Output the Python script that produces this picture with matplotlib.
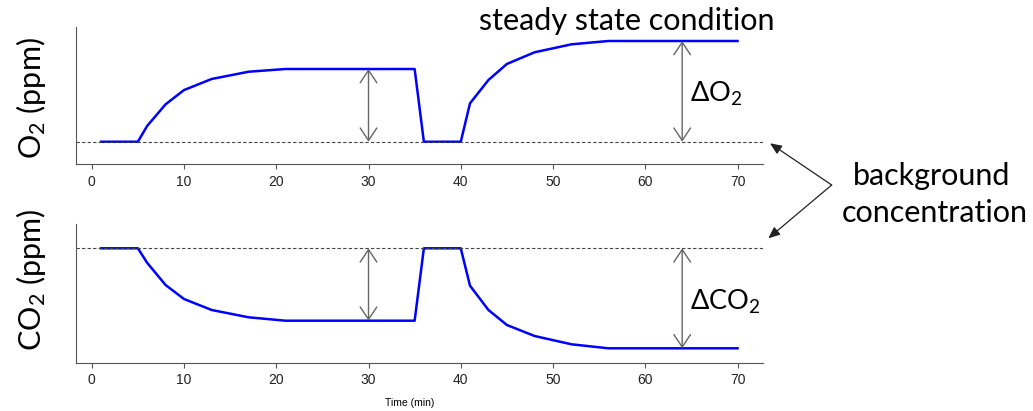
import matplotlib
matplotlib.use('Agg')
import matplotlib.pyplot as plt

# values (arbitrary units, background = 0)
time_min = [1, 5, 6, 8, 10, 13, 17, 21, 35, 36, 40, 41, 43, 45, 48, 52, 56, 70]
o2_ppm = [0, 0, 0.156, 0.371, 0.513, 0.623, 0.695, 0.722, 0.722, 0, 0,
          0.381, 0.613, 0.772, 0.888, 0.967, 1.0, 1.0]
co2_ppm = [0, 0, -0.144, -0.367, -0.507, -0.617, -0.69, -0.724, -0.724, 0, 0,
           -0.374, -0.617, -0.767, -0.877, -0.96, -1.0, -1.0]
x_ticks = [0, 10, 20, 30, 40, 50, 60, 70]
background = 0
arrow_times = [30, 64]

W, H = 1033, 411
big_font = 'Lato'
axis_grey = '#555555'


def style_axis(ax):
    ax.spines['top'].set_visible(False)
    ax.spines['right'].set_visible(False)
    ax.spines['left'].set_color(axis_grey)
    ax.spines['bottom'].set_color(axis_grey)
    ax.set_xlim(-1.76, 72.76)
    ax.set_xticks(x_ticks)
    ax.set_yticks([])
    ax.tick_params(axis='x', length=3.6, color=axis_grey, pad=4,
                   labelsize=10, labelcolor='#222222')
    for lab in ax.get_xticklabels():
        lab.set_family('Liberation Sans')


def vert_arrow(ax, x, y0, y1):
    ax.annotate('', xy=(x, y1), xytext=(x, y0),
                arrowprops=dict(arrowstyle='<->,head_length=0.9,head_width=0.6',
                                color='#666666', lw=1.0, shrinkA=0, shrinkB=0))


fig = plt.figure(figsize=(W / 100, H / 100), dpi=100)
ax1 = fig.add_axes([75.5 / W, 1 - 164 / H, 687.5 / W, 137 / H])
ax2 = fig.add_axes([75.5 / W, 1 - 362.7 / H, 687.5 / W, 138.7 / H])

# O2 panel
ax1.plot(time_min, o2_ppm, color='#0000ff', lw=1.8)
ax1.axhline(background, color='#444444', lw=0.8, ls=(0, (3, 2)))
ax1.set_ylim(-0.221, 1.139)
style_axis(ax1)
vert_arrow(ax1, arrow_times[0], background, o2_ppm[time_min.index(21)])
vert_arrow(ax1, arrow_times[1], background, o2_ppm[-1])

# CO2 panel
ax2.plot(time_min, co2_ppm, color='#0000ff', lw=1.8)
ax2.axhline(background, color='#444444', lw=0.8, ls=(0, (3, 2)))
ax2.set_ylim(-1.144, 0.243)
style_axis(ax2)
vert_arrow(ax2, arrow_times[0], background, co2_ppm[time_min.index(21)])
vert_arrow(ax2, arrow_times[1], background, co2_ppm[-1])

# texts (figure pixels)
fig.text(626.5, H - 30, 'steady state condition', transform=None, ha='center',
         va='baseline', fontsize=22, family=big_font)
fig.text(690, H - 101.7, r'$\mathregular{\Delta O_2}$', transform=None, ha='left',
         va='baseline', fontsize=19.5, family=big_font)
fig.text(690, H - 310, r'$\mathregular{\Delta CO_2}$', transform=None, ha='left',
         va='baseline', fontsize=19.5, family=big_font)
fig.text(31, H - 98, r'$\mathregular{O_2}$ (ppm)', transform=None, ha='center',
         va='center', rotation=90, fontsize=22, family=big_font)
fig.text(31, H - 280, r'$\mathregular{CO_2}$ (ppm)', transform=None, ha='center',
         va='center', rotation=90, fontsize=22, family=big_font)
fig.text(932, H - 185, 'background', transform=None, ha='center',
         va='baseline', fontsize=22, family=big_font)
fig.text(935, H - 222, 'concentration', transform=None, ha='center',
         va='baseline', fontsize=22, family=big_font)
fig.text(410, H - 403, 'Time (min)', transform=None, ha='center',
         va='center', fontsize=7.5, family='Liberation Sans')

# pointers to the background lines
for tip in [(770, H - 143.3), (768.3, H - 238.3)]:
    fig.add_artist(matplotlib.patches.FancyArrowPatch(
        (831.7, H - 185), tip, transform=None,
        arrowstyle='-|>,head_length=0.7,head_width=0.3', mutation_scale=10,
        color='#222222', lw=0.9, shrinkA=0, shrinkB=0))

fig.savefig('out.png', dpi=100)
